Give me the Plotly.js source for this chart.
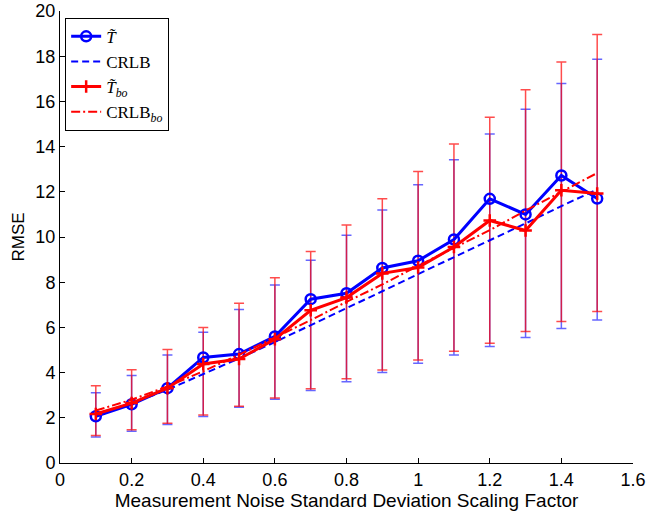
<!DOCTYPE html>
<html>
<head>
<meta charset="utf-8">
<script src="https://cdn.plot.ly/plotly-3.0.1.min.js"></script>
<style>html,body{margin:0;padding:0;background:#fff;}#chart{width:647px;height:516px;}</style>
</head>
<body>
<div id="chart"></div>
<script>
const scaleFactor = [0.1,0.2,0.3,0.4,0.5,0.6,0.7,0.8,0.9,1.0,1.1,1.2,1.3,1.4,1.5];
const rmseT   = [2.07,2.60,3.31,4.67,4.82,5.60,7.25,7.51,8.63,8.95,9.89,11.69,11.00,12.72,11.70];
const crlb    = [2.13,2.64,3.24,3.92,4.63,5.35,6.09,6.84,7.60,8.36,9.10,9.86,10.60,11.37,12.10];
const crlbErr = [0.98,1.23,1.54,1.86,2.16,2.53,2.88,3.24,3.60,3.95,4.32,4.70,5.05,5.42,5.77];
const rmseTbo = [2.17,2.65,3.31,4.38,4.60,5.48,6.76,7.32,8.39,8.65,9.56,10.73,10.29,12.07,11.92];
const crlbBo  = [2.32,2.80,3.39,4.06,4.79,5.54,6.32,7.13,7.90,8.73,9.53,10.30,11.17,12.00,12.83];
const crlbBoErr = [1.10,1.33,1.63,1.94,2.28,2.66,3.04,3.40,3.79,4.17,4.58,5.00,5.35,5.74,6.13];
const xTicks = [0,0.2,0.4,0.6,0.8,1,1.2,1.4,1.6];
const yTicks = [0,2,4,6,8,10,12,14,16,18,20];
const names = ['<i>T\u0303</i>','CRLB','<i>T\u0303</i><sub><i>bo</i></sub>','CRLB<sub><i>bo</i></sub>'];

const traces = [
  {x: scaleFactor, y: crlb, type:'scatter', mode:'markers', showlegend:false, hoverinfo:'skip',
   marker:{size:2, opacity:0},
   error_y:{type:'data', array:crlbErr, visible:true, color:'rgba(0,0,255,0.6)', thickness:1.5, width:5}},
  {x: scaleFactor, y: crlbBo, type:'scatter', mode:'markers', showlegend:false, hoverinfo:'skip',
   marker:{size:2, opacity:0},
   error_y:{type:'data', array:crlbBoErr, visible:true, color:'rgba(255,0,0,0.7)', thickness:1.5, width:5}},
  {x: scaleFactor, y: rmseT, type:'scatter', mode:'lines+markers', name:names[0],
   line:{color:'#0000ff', width:3},
   marker:{symbol:'circle-open', size:10, color:'#0000ff', line:{width:2.5, color:'#0000ff'}}},
  {x: scaleFactor, y: crlb, type:'scatter', mode:'lines', name:names[1],
   line:{color:'#0000ff', width:2, dash:'7px,4px'}},
  {x: scaleFactor, y: rmseTbo, type:'scatter', mode:'lines+markers', name:names[2],
   line:{color:'#ff0000', width:3},
   marker:{symbol:'cross-thin-open', size:9, color:'#ff0000', line:{width:2.5, color:'#ff0000'}}},
  {x: scaleFactor, y: crlbBo, type:'scatter', mode:'lines', name:names[3],
   line:{color:'#ff0000', width:2, dash:'9px,3px,2px,3px'}}
];

const layout = {
  width:647, height:516,
  margin:{l:60, r:14, t:11, b:53},
  paper_bgcolor:'#fff', plot_bgcolor:'#fff',
  font:{family:'"Liberation Sans", Arial, sans-serif', size:18, color:'#000'},
  xaxis:{range:[0,1.6], tickvals:xTicks, ticktext:xTicks.map(String), ticks:'inside', ticklen:5, tickcolor:'#000',
    showline:true, linecolor:'#000', linewidth:1, showgrid:false, zeroline:false, mirror:false,
    tickfont:{size:18},
    title:{text:'Measurement Noise Standard Deviation Scaling Factor', font:{size:19}, standoff:0}},
  yaxis:{range:[0,20], tickvals:yTicks, ticktext:yTicks.map(String), ticks:'inside', ticklen:5, tickcolor:'#000',
    showline:true, linecolor:'#000', linewidth:1, showgrid:false, zeroline:false, mirror:false,
    tickfont:{size:18},
    title:{text:'RMSE', font:{size:17}, standoff:6}},
  showlegend:true,
  legend:{x:0.009, y:0.985, xanchor:'left', yanchor:'top', bgcolor:'#fff', bordercolor:'#000', borderwidth:1,
    font:{family:'"Liberation Serif", "Times New Roman", serif', size:17, color:'#000'},
    tracegroupgap:0, itemwidth:30}
};

Plotly.newPlot('chart', traces, layout, {displayModeBar:false, staticPlot:true});
</script>
</body>
</html>
